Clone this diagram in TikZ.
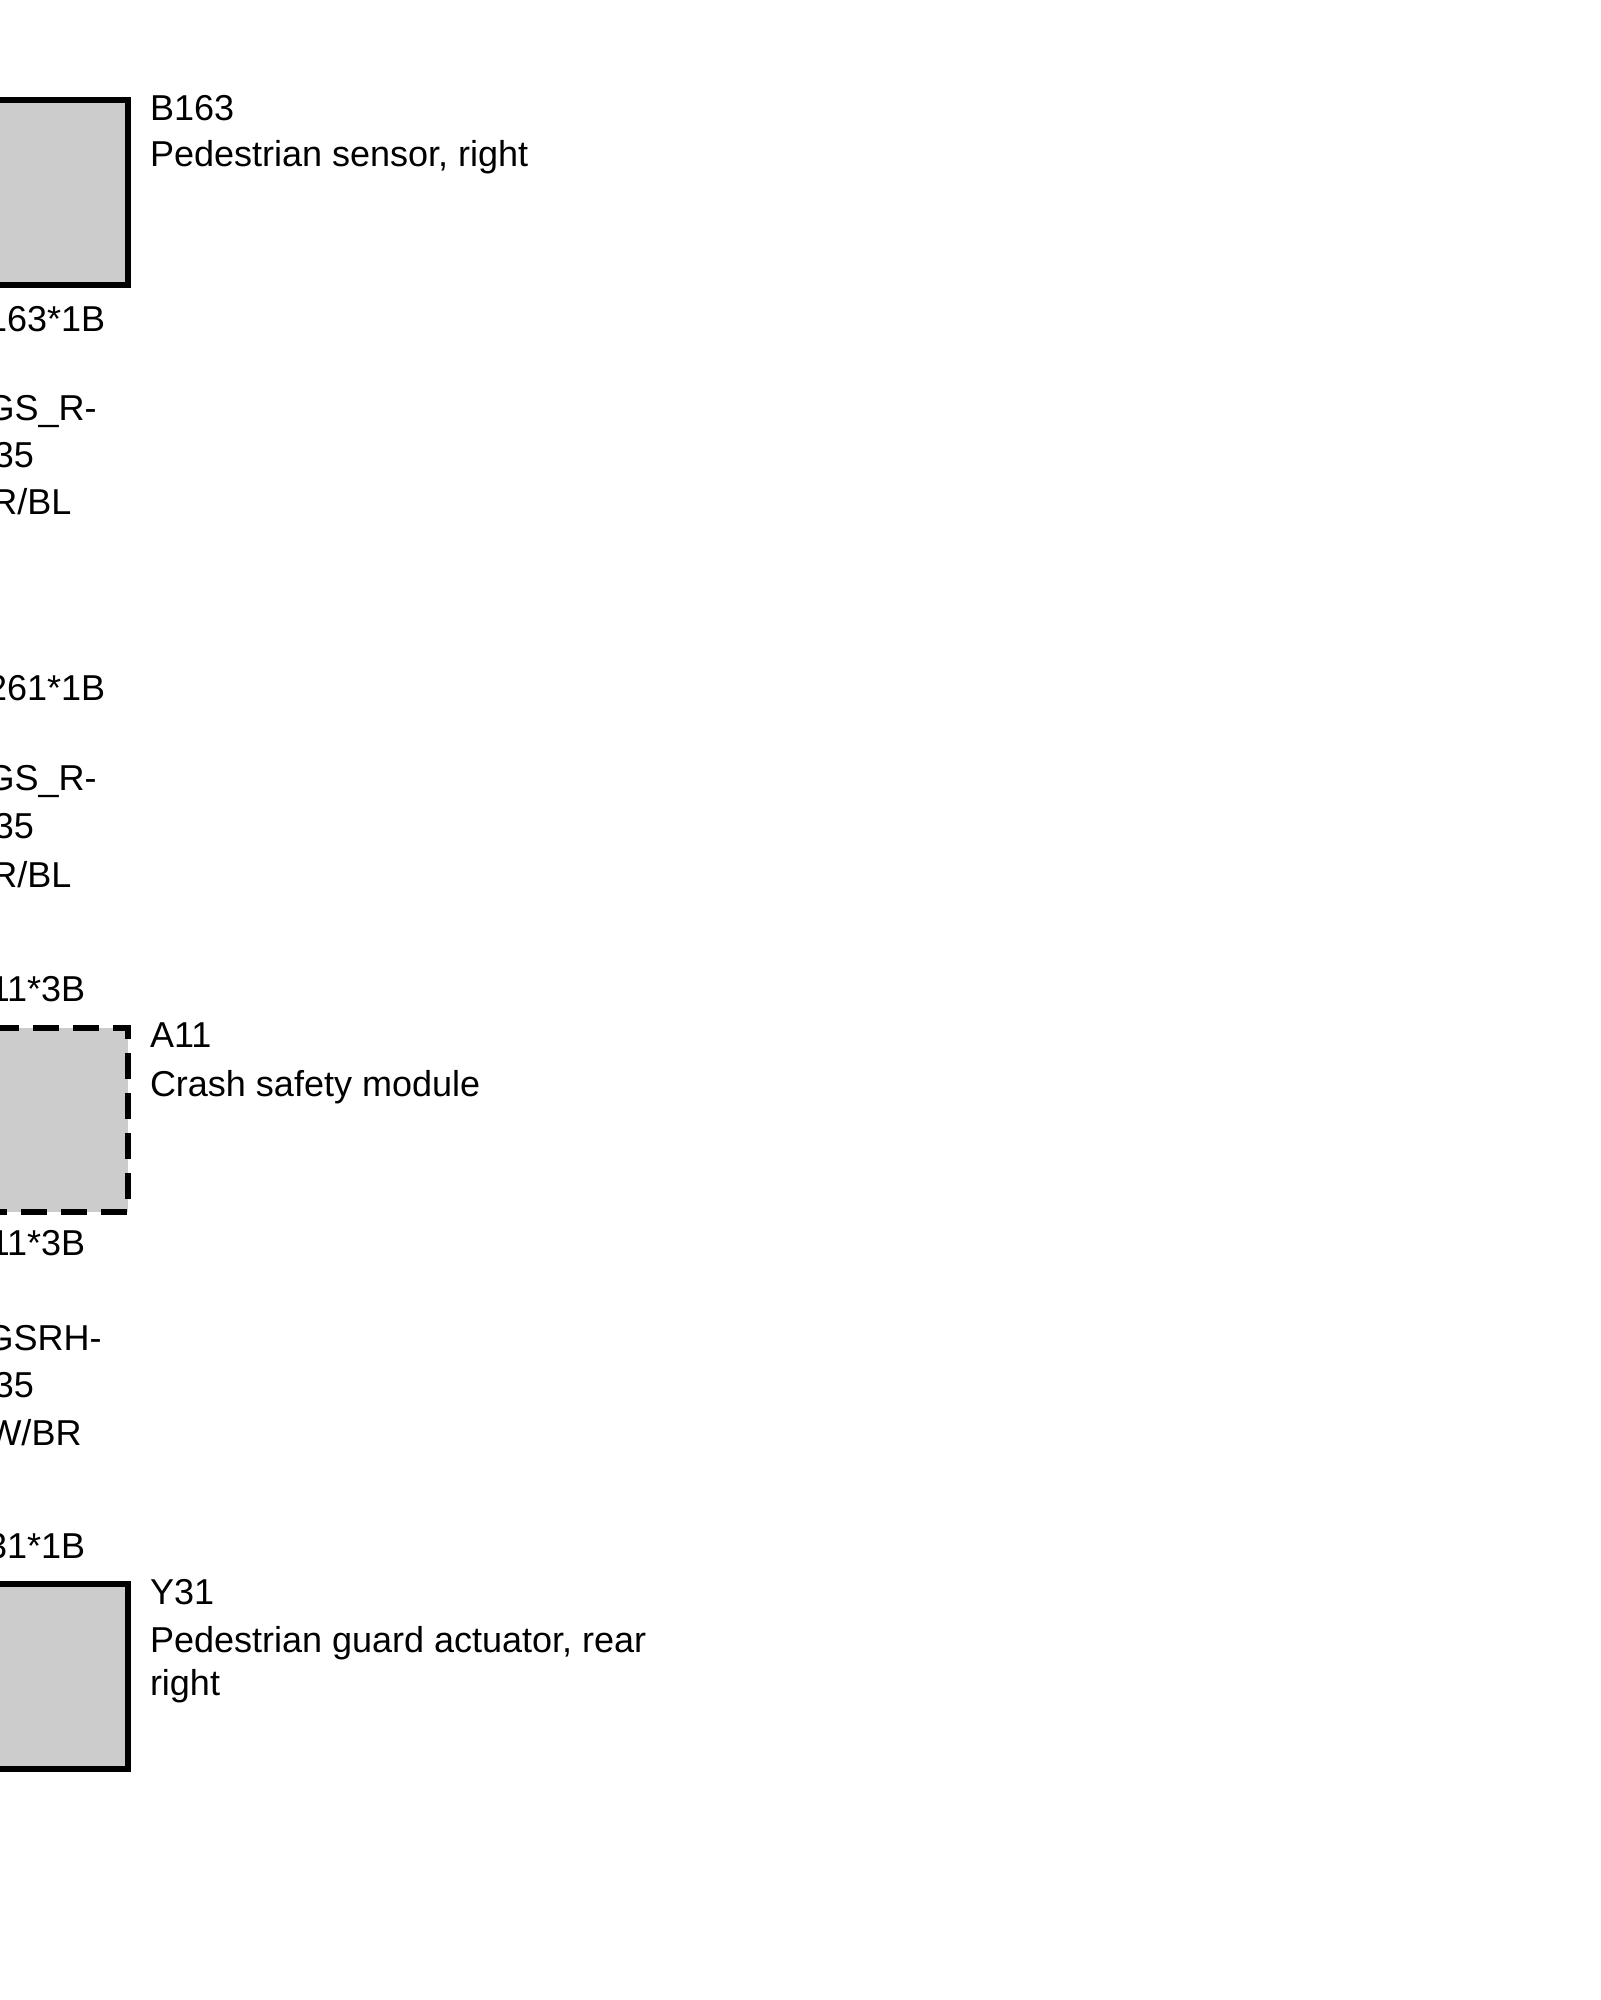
\documentclass[tikz,border=0pt]{standalone}
\usepackage{fontspec}
\setmainfont{Liberation Sans}
\definecolor{boxgray}{HTML}{CCCCCC}
\tikzset{
  lbl/.style={inner sep=0pt, outer sep=0pt, font=\fontsize{18pt}{22pt}\selectfont},
  leftlbl/.style={lbl, anchor=base east},
  rightlbl/.style={lbl, anchor=base west},
  solidbox/.style={draw=black, fill=boxgray, line width=3pt, line join=miter},
  dashbox/.style={draw=black, line width=3pt, line join=miter, dash pattern=on 13pt off 7pt},
}
\begin{document}
\begin{tikzpicture}[x=0.5pt, y=-0.5pt]
\useasboundingbox (0,0) rectangle (1600,2000);
\clip (0,0) rectangle (1600,2000);
\fill[white] (0,0) rectangle (1600,2000);

% B163 component
\path[solidbox] (-60,100) rectangle (127.5,285);
\coordinate (b163) at (127.5,100);
\node[rightlbl] (b163id) at (150,121) {B163};
\node[rightlbl] (b163name) at (150,167) {Pedestrian sensor, right};
\node[leftlbl] (c1) at (105.2,332) {163*1B};
\node[leftlbl] (w1a) at (96.6,421) {GS\_R-};
\node[leftlbl] (w1b) at (33.8,467) {35};
\node[leftlbl] (w1c) at (71.3,514) {R/BL};

% splice / connector
\node[leftlbl] (c2) at (105.2,700) {261*1B};
\node[leftlbl] (w2a) at (96.6,790) {GS\_R-};
\node[leftlbl] (w2b) at (33.8,838) {35};
\node[leftlbl] (w2c) at (71.3,887) {R/BL};

% A11 module (dashed)
\node[leftlbl] (c3) at (85.2,1001) {11*3B};
\fill[boxgray] (-60,1027.5) rectangle (127.5,1212);
\draw[dashbox] (-87,1027.5) -- (127.5,1027.5) -- (127.5,1212) -- (-87,1212);
\node[rightlbl] (a11id) at (150,1047) {A11};
\node[rightlbl] (a11name) at (150,1096) {Crash safety module};
\node[leftlbl] (c4) at (85.2,1255) {11*3B};
\node[leftlbl] (w3a) at (101.6,1350) {GSRH-};
\node[leftlbl] (w3b) at (33.8,1397) {35};
\node[leftlbl] (w3c) at (81.5,1445) {W/BR};

% Y31 actuator
\node[leftlbl] (c5) at (85.2,1558) {31*1B};
\path[solidbox] (-60,1583.7) rectangle (127.5,1769);
\node[rightlbl] (y31id) at (150,1604) {Y31};
\node[rightlbl] (y31name1) at (150,1652) {Pedestrian guard actuator, rear};
\node[rightlbl] (y31name2) at (150,1695) {right};
\end{tikzpicture}
\end{document}
